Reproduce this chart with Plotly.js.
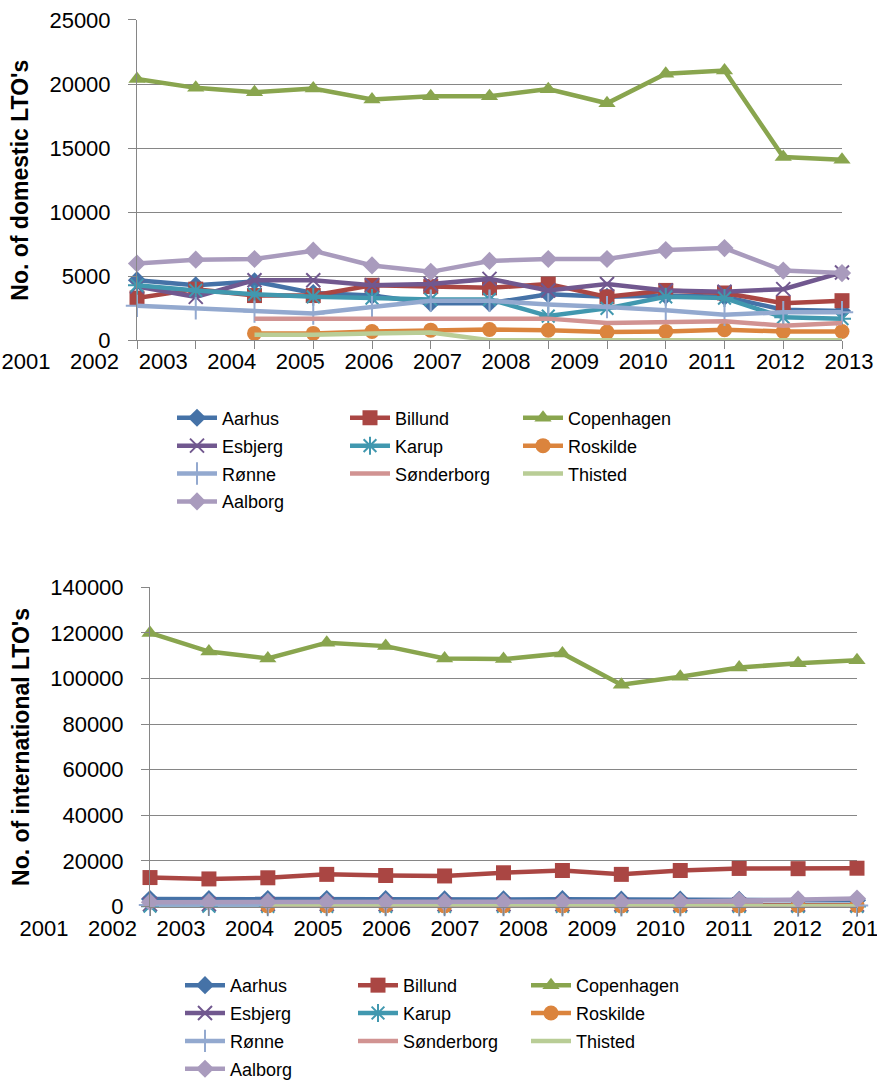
<!DOCTYPE html>
<html><head><meta charset="utf-8">
<script src="https://cdn.plot.ly/plotly-3.0.1.min.js"></script>
<style>html,body{margin:0;padding:0;background:#fff}#chart{width:877px;height:1088px}</style>
</head><body><div id="chart"></div>
<script>
// ---------- data ----------
const years = ['2001','2002','2003','2004','2005','2006','2007','2008','2009','2010','2011','2012','2013'];
const airports = ['Aarhus','Billund','Copenhagen','Esbjerg','Karup','Roskilde','Rønne','Sønderborg','Thisted','Aalborg'];

// domestic LTOs
const domAarhus     = [4700, 4300, 4600, 3700, 3500, 2900, 2900, 3600, 3400, 3500, 3400, 2400, 2300];
const domBillund    = [3300, 4000, 3500, 3500, 4300, 4200, 4100, 4400, 3400, 3900, 3700, 2900, 3100];
const domCopenhagen = [20400, 19700, 19350, 19650, 18800, 19050, 19050, 19600, 18500, 20800, 21050, 14300, 14100];
const domEsbjerg    = [4200, 3400, 4700, 4700, 4300, 4400, 4800, 3900, 4400, 3900, 3800, 4000, 5300];
const domKarup      = [4300, 3900, 3600, 3400, 3300, 3200, 3200, 1900, 2500, 3400, 3300, 1800, 1700];
const domRoskilde   = [null, null, 550, 550, 700, 800, 850, 800, 650, 700, 830, 700, 700];
const domRonne      = [2700, 2500, 2250, 2100, 2600, 3100, 3100, 2800, 2600, 2350, 2000, 2200, 2200];
const domSonderborg = [null, null, 1700, 1700, 1700, 1700, 1750, 1700, 1350, 1450, 1500, 1150, 1350];
const domThisted    = [null, null, 450, 450, 550, 620, 20, 20, 20, 20, 20, 20, 20];
const domAalborg    = [6000, 6300, 6350, 7000, 5850, 5350, 6200, 6350, 6350, 7050, 7200, 5450, 5250];

// international LTOs
const intAarhus     = [3300, 3200, 3300, 3300, 3200, 3100, 3100, 3200, 3000, 3000, 2900, 2800, 2800];
const intBillund    = [12700, 12100, 12600, 14100, 13600, 13400, 14800, 15800, 14100, 15800, 16700, 16600, 16800];
const intCopenhagen = [120000, 111800, 108800, 115700, 114200, 108800, 108500, 111000, 97300, 100800, 104800, 106700, 108000];
const intEsbjerg    = [1000, 1000, 1100, 1100, 1000, 1000, 1000, 1000, 900, 900, 900, 800, 800];
const intKarup      = [150, 120, 100, 100, 90, 80, 80, 70, 60, 60, 50, 50, 50];
const intRoskilde   = [null, null, 300, 300, 350, 300, 300, 300, 250, 250, 300, 350, 400];
const intRonne      = [700, 700, 650, 650, 600, 600, 600, 550, 500, 500, 500, 450, 450];
const intSonderborg = [null, null, 500, 500, 450, 450, 450, 400, 350, 350, 350, 300, 300];
const intThisted    = [null, null, 200, 200, 200, 200, 150, 150, 100, 100, 100, 100, 100];
const intAalborg    = [1900, 1900, 2000, 2000, 2000, 1900, 2000, 2100, 1900, 2200, 2600, 3100, 3500];

const domSeries = [domAarhus, domBillund, domCopenhagen, domEsbjerg, domKarup, domRoskilde, domRonne, domSonderborg, domThisted, domAalborg];
const intSeries = [intAarhus, intBillund, intCopenhagen, intEsbjerg, intKarup, intRoskilde, intRonne, intSonderborg, intThisted, intAalborg];

// ---------- styles ----------
const palette = ['#4572A7','#AA4643','#89A54E','#71588F','#4198AF','#DB843D','#93A9CF','#D19392','#B9CD96','#A99BBD'];
const symbols = ['diamond','square','triangle-up','x-thin-open','asterisk-open','circle','cross-thin-open',null,null,'diamond'];
const msizes  = [14, 15, 15, 14, 15, 15, 16, 0, 0, 14];

const W = 877, H = 1088;
const FONT = 'Liberation Sans, Arial, sans-serif';
const GRAY = '#868686';

function makeTraces(series, xa, ya, legendIds) {
  return series.map((vals, i) => {
    const sym = symbols[i];
    const t = {
      type: 'scatter', x: years, y: vals, name: airports[i],
      xaxis: xa, yaxis: ya,
      mode: sym ? 'lines+markers' : 'lines',
      line: {color: palette[i], width: 4.5},
      cliponaxis: false,
      legend: legendIds[Math.floor(i / 3)],
      hoverinfo: 'x+y+name'
    };
    if (sym) {
      const open = sym.indexOf('open') >= 0;
      t.marker = {symbol: sym, size: msizes[i], color: palette[i],
        line: {color: palette[i], width: open ? 2 : 0}};
    }
    return t;
  });
}

// empty helper traces so the year-label axes (x3/y3, x4/y4) get drawn
const labelHelpers = [
  {type: 'scatter', x: [], y: [], xaxis: 'x3', yaxis: 'y3', showlegend: false, hoverinfo: 'skip'},
  {type: 'scatter', x: [], y: [], xaxis: 'x4', yaxis: 'y4', showlegend: false, hoverinfo: 'skip'}
];

const traces = []
  .concat(makeTraces(domSeries, 'x', 'y', ['legend','legend2','legend3','legend4']))
  .concat(makeTraces(intSeries, 'x2', 'y2', ['legend5','legend6','legend7','legend8']))
  .concat(labelHelpers);

const idx = years.map((_, i) => i);

function legendAt(xPx, yPx) {
  return {orientation: 'h', x: xPx / W, xanchor: 'left', y: 1 - yPx / H, yanchor: 'middle',
    entrywidth: 118, entrywidthmode: 'pixels', itemwidth: 40,
    font: {size: 18, color: '#000', family: FONT}, bgcolor: 'rgba(0,0,0,0)', borderwidth: 0};
}

const topDom = [1 - 342 / H, 1 - 20 / H];
const botDom = [1 - 910.7 / H, 1 - 590 / H];

function mainX(x0, x1, anchor) {
  return {type: 'category', domain: [x0 / W, x1 / W], range: [0, 12], anchor: anchor,
    showline: true, linecolor: GRAY, linewidth: 1, ticks: 'outside', ticklen: 8,
    tickcolor: GRAY, tickwidth: 1, showticklabels: false, showgrid: false, zeroline: false, fixedrange: true};
}
function mainY(dom, max, dtick, title, anchor) {
  return {domain: dom, range: [0, max], tickmode: 'linear', tick0: 0, dtick: dtick, anchor: anchor,
    tickformat: 'd',
    showline: true, linecolor: GRAY, linewidth: 1, ticks: 'outside', ticklen: 8, tickcolor: GRAY,
    gridcolor: GRAY, gridwidth: 1, zeroline: false, fixedrange: true,
    tickfont: {size: 22, color: '#000', family: FONT}, ticklabelstandoff: 13,
    title: {text: '<b>' + title + '</b>', font: {size: 23, color: '#000', family: FONT}, standoff: 14}};
}
function labelX(r0, r1, anchor) {
  return {domain: [0, 1], range: [r0, r1], anchor: anchor, tickmode: 'array', tickvals: idx, ticktext: years,
    tickangle: 0, ticklabelstandoff: 6, ticklabeloverflow: 'allow',
    showline: false, showgrid: false, zeroline: false, ticks: '', fixedrange: true,
    tickfont: {size: 22, color: '#000', family: FONT}};
}

const layout = {
  width: W, height: H,
  margin: {l: 0, r: 0, t: 0, b: 0},
  paper_bgcolor: '#fff', plot_bgcolor: 'rgba(0,0,0,0)',
  font: {family: FONT, color: '#000'},
  showlegend: true,
  xaxis: mainX(137, 842, 'y'),
  yaxis: mainY(topDom, 25000, 5000, "No. of domestic LTO's", 'x'),
  xaxis2: mainX(150, 857, 'y2'),
  yaxis2: mainY(botDom, 140000, 20000, "No. of international LTO's", 'x2'),
  xaxis3: labelX(-0.379, 12.409, 'y3'),
  yaxis3: {domain: topDom, anchor: 'x3', visible: false, range: [0, 1], fixedrange: true},
  xaxis4: labelX(-0.642, 12.161, 'y4'),
  yaxis4: {domain: botDom, anchor: 'x4', visible: false, range: [0, 1], fixedrange: true},
  legend: legendAt(172, 420),
  legend2: legendAt(172, 448),
  legend3: legendAt(172, 476),
  legend4: legendAt(172, 504),
  legend5: legendAt(180, 990),
  legend6: legendAt(180, 1018),
  legend7: legendAt(180, 1046),
  legend8: legendAt(180, 1074)
};

Plotly.newPlot('chart', traces, layout, {displayModeBar: false, staticPlot: true});
</script>
</body></html>
